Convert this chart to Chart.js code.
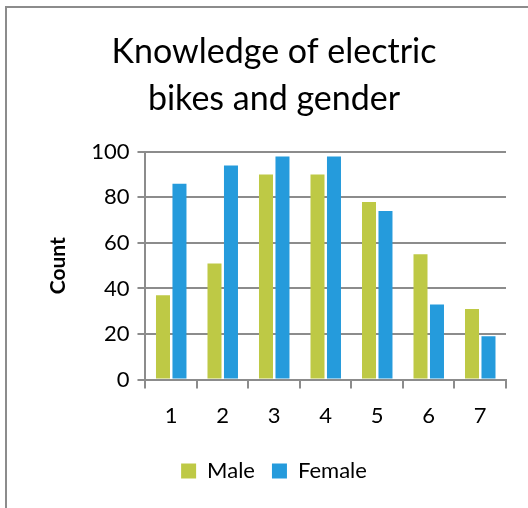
<!DOCTYPE html>
<html>
<head>
<meta charset="utf-8">
<script src="https://cdn.jsdelivr.net/npm/chart.js@4.4.1/dist/chart.umd.min.js"></script>
<style>
  body { margin: 0; background: #fff; }
  #frame { position: absolute; left: 5px; top: 6px; width: 700px; height: 700px;
           border-left: 2px solid #8c8c8c; border-top: 2px solid #8c8c8c; }
  #wrap { position: absolute; left: 0; top: 0; width: 528px; height: 508px; }
</style>
</head>
<body>
<div id="frame"></div>
<div id="wrap"><canvas id="chart" width="528" height="508"></canvas></div>
<script>
  // Data
  const categories = ['1', '2', '3', '4', '5', '6', '7'];
  const maleValues = [37, 51, 90, 90, 78, 55, 31];
  const femaleValues = [86, 94, 98, 98, 74, 33, 19];
  const yTicks = [0, 20, 40, 60, 80, 100];

  const font = "Lato, 'Open Sans', sans-serif";
  const gridColor = '#8c8c8c';

  const ctx = document.getElementById('chart').getContext('2d');
  new Chart(ctx, {
      type: 'bar',
      data: {
          labels: categories,
          datasets: [{
              label: 'Male',
              data: maleValues,
              backgroundColor: '#bec945',
              categoryPercentage: 0.64,
              barPercentage: 0.85
          }, {
              label: 'Female',
              data: femaleValues,
              backgroundColor: '#259bdc',
              categoryPercentage: 0.64,
              barPercentage: 0.85
          }]
      },
      options: {
          responsive: false,
          animation: false,
          layout: { padding: { left: 42, right: 22, top: 29, bottom: 16 } },
          plugins: {
              title: {
                  display: true,
                  text: ['Knowledge of electric', 'bikes and gender'],
                  color: '#000',
                  font: { family: font, size: 34, weight: 'normal', lineHeight: 1.38 },
                  padding: { top: 0, bottom: 29 }
              },
              legend: {
                  position: 'bottom',
                  labels: {
                      color: '#000',
                      boxWidth: 15,
                      boxHeight: 15,
                      padding: 17,
                      font: { family: font, size: 22 }
                  }
              },
              tooltip: { enabled: false }
          },
          scales: {
              x: {
                  grid: {
                      offset: true,
                      drawOnChartArea: false,
                      drawTicks: true,
                      tickLength: 9,
                      color: gridColor,
                      lineWidth: 2
                  },
                  border: { color: gridColor, width: 2 },
                  ticks: { color: '#000', padding: 14, font: { family: font, size: 22 } }
              },
              y: {
                  min: 0,
                  max: 100,
                  afterBuildTicks: axis => { axis.ticks = yTicks.map(v => ({ value: v })); },
                  grid: { color: gridColor, lineWidth: 2, tickLength: 8 },
                  border: { color: gridColor, width: 2 },
                  ticks: { color: '#000', padding: 8, font: { family: font, size: 22 } },
                  title: {
                      display: true,
                      text: 'Count',
                      color: '#000',
                      padding: { bottom: 12 },
                      font: { family: font, size: 21, weight: 'bold' }
                  }
              }
          }
      }
  });
</script>
</body>
</html>
